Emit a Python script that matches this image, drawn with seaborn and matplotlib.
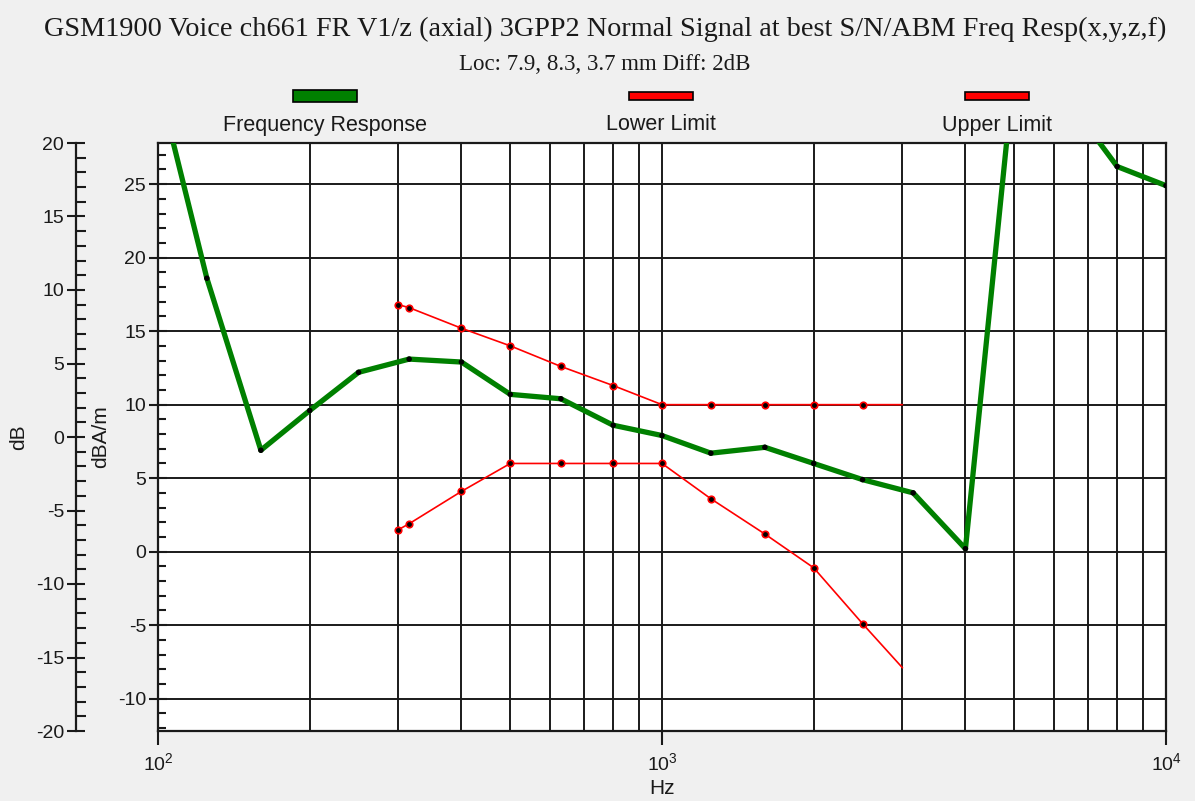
import numpy as np
import pandas as pd
import seaborn as sns
import matplotlib
matplotlib.use("Agg")
import matplotlib.pyplot as plt
from matplotlib.patches import Rectangle
from matplotlib.ticker import LogLocator, MultipleLocator, NullFormatter

# Third-octave measurement of the receive frequency response (dBA/m)
resp_freq = [100, 125, 160, 200, 250, 315, 400, 500, 630, 800, 1000, 1250,
             1600, 2000, 2500, 3150, 4000, 5000, 6300, 8000, 10000]
resp_dba = [32.0, 18.6, 6.9, 9.6, 12.2, 13.1, 12.9, 10.7, 10.4, 8.6, 7.9, 6.7,
            7.1, 6.0, 4.9, 4.0, 0.2, 33.0, 31.0, 26.2, 24.9]

# 3GPP2 mask
limit_freq = [300, 315, 400, 500, 630, 800, 1000, 1250, 1600, 2000, 2500, 3000]
upper_dba = [16.8, 16.6, 15.2, 14.0, 12.6, 11.3, 10.0, 10.0, 10.0, 10.0, 10.0, 10.0]
lower_dba = [1.5, 1.9, 4.1, 6.0, 6.0, 6.0, 6.0, 3.6, 1.2, -1.1, -4.9, -7.9]

legend_labels = ["Frequency Response", "Lower Limit", "Upper Limit"]
title = "GSM1900 Voice ch661 FR V1/z (axial) 3GPP2 Normal Signal at best S/N/ABM Freq Resp(x,y,z,f)"
subtitle = "Loc: 7.9, 8.3, 3.7 mm Diff: 2dB"

sns.set_theme(style="white")
plt.rcParams["font.family"] = ["Liberation Sans", "DejaVu Sans"]
plt.rcParams["axes.unicode_minus"] = False

BG = "#f0f0f0"
INK = "#1a1a1a"
GREEN = "#008000"
RED = "#ff0000"
PX = 72 / 100  # points per pixel at 100 dpi

fig = plt.figure(figsize=(11.95, 8.01), dpi=100, facecolor=BG)
ax = fig.add_axes([158 / 1195, 1 - 731 / 801, (1166 - 158) / 1195, (731 - 143) / 801])
ax.set_facecolor("white")
ax.set_xscale("log")
ax.set_xlim(100, 10000)
ax.set_ylim(-12.2, 27.8)

resp = pd.DataFrame({"f": resp_freq, "v": resp_dba})
lim = pd.DataFrame({"f": limit_freq, "up": upper_dba, "lo": lower_dba})

# limit lines
for col in ["lo", "up"]:
    sns.lineplot(data=lim, x="f", y=col, ax=ax, color=RED, lw=1.2,
                 sort=False, estimator=None, zorder=3)
    sns.scatterplot(data=lim.iloc[:-1], x="f", y=col, ax=ax, color="black",
                    edgecolor=RED, linewidth=1.2, s=22, zorder=4)

# measured response
sns.lineplot(data=resp, x="f", y="v", ax=ax, color=GREEN, lw=3.8,
             sort=False, estimator=None, zorder=5)
sns.scatterplot(data=resp, x="f", y="v", ax=ax, color="black",
                edgecolor="none", s=16, zorder=6)

ax.set_xlabel("Hz", fontsize=15, color=INK, labelpad=4)
ax.set_ylabel("dBA/m", fontsize=15, color=INK)
ax.yaxis.set_label_coords(-48 / 1008, 0.5)

# grid
ax.xaxis.set_major_locator(LogLocator(base=10, numticks=10))
ax.xaxis.set_minor_locator(LogLocator(base=10, subs=np.arange(2, 10), numticks=20))
ax.xaxis.set_minor_formatter(NullFormatter())
ax.yaxis.set_major_locator(MultipleLocator(5))
ax.yaxis.set_minor_locator(MultipleLocator(1))
ax.grid(which="major", axis="y", color=INK, lw=1.4)
ax.grid(which="both", axis="x", color=INK, lw=1.4)
ax.set_axisbelow(True)

for s in ax.spines.values():
    s.set_color(INK)
    s.set_linewidth(1.6)

ax.tick_params(axis="y", which="major", direction="inout", length=13, width=1.5,
               color=INK, labelsize=14, labelcolor=INK, pad=2, left=True)
ax.tick_params(axis="y", which="minor", direction="in", length=6, width=1.5,
               color=INK, left=True)
ax.tick_params(axis="x", which="major", direction="out", length=10, width=1.5,
               color=INK, labelsize=14, labelcolor=INK, pad=5, bottom=True)
ax.tick_params(axis="x", which="minor", length=0)

# secondary dB scale on the far left
ax2 = ax.twinx()
ax2.set_ylim(-20, 20)
ax2.spines["left"].set_position(("outward", 82 * PX))
ax2.spines["left"].set_visible(True)
ax2.spines["left"].set_color(INK)
ax2.spines["left"].set_linewidth(1.6)
for side in ["right", "top", "bottom"]:
    ax2.spines[side].set_visible(False)
ax2.yaxis.set_ticks_position("left")
ax2.yaxis.set_label_position("left")
ax2.yaxis.set_major_locator(MultipleLocator(5))
ax2.yaxis.set_minor_locator(MultipleLocator(1))
ax2.tick_params(axis="y", which="major", direction="inout", length=13, width=1.5,
                color=INK, labelsize=14, labelcolor=INK, pad=2, left=True, right=False)
ax2.tick_params(axis="y", which="minor", direction="in", length=7, width=1.5,
                color=INK, left=True, right=False)
ax2.set_ylabel("dB", fontsize=15, color=INK)
ax2.yaxis.set_label_coords(-130 / 1008, 0.5)
ax2.grid(False)

# titles
fig.text(605 / 1195, 1 - 36 / 801, title, ha="center", va="baseline", fontsize=20.3,
         family="Liberation Serif", color=INK)
fig.text(605 / 1195, 1 - 70 / 801, subtitle, ha="center", va="baseline", fontsize=16.5,
         family="Liberation Serif", color=INK)

# legend: swatch above label
legend_colors = [GREEN, RED, RED]
legend_cx = [325, 661, 997]
legend_h = [11, 7, 7]
for lab, c, cx, h in zip(legend_labels, legend_colors, legend_cx, legend_h):
    fig.add_artist(Rectangle(((cx - 32) / 1195, 1 - (96 + h / 2) / 801), 64 / 1195, h / 801,
                             transform=fig.transFigure, facecolor=c,
                             edgecolor="black", lw=1.2))
    fig.text(cx / 1195, 1 - 125 / 801, lab, ha="center", va="center",
             fontsize=15.5, color=INK)

fig.savefig("out.png", dpi=100, facecolor=BG)
